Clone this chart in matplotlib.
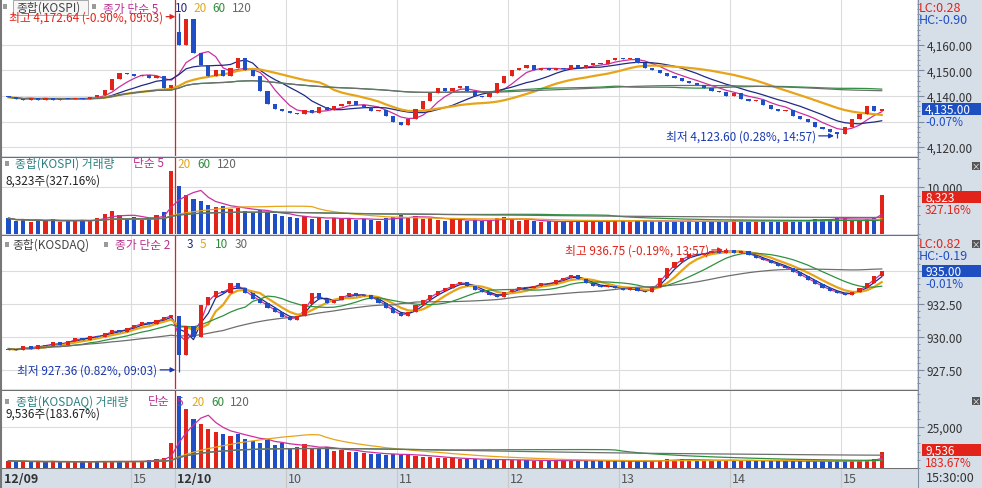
import numpy as np
import pandas as pd
import matplotlib
matplotlib.use('Agg')
import matplotlib.pyplot as plt
from matplotlib.patches import Rectangle
from matplotlib.lines import Line2D
from matplotlib.ticker import MultipleLocator, FixedLocator, FuncFormatter
import matplotlib.transforms as mtransforms

plt.rcParams['font.family'] = ['Noto Sans CJK KR', 'DejaVu Sans']

# 4분봉: 12/09 13:48~15:20 (23봉), 12/10 09:00~15:20 (96봉)
day1_len = 23
tick_idx = [0, 17, 23, 38, 53, 68, 83, 98, 113]
tick_lbl = ['12/09', '15', '12/10', '10', '11', '12', '13', '14', '15']
tick_bold = [True, False, True, False, False, False, False, False, False]

kospi_close = [
    4139.5, 4139.0, 4138.4, 4139.2, 4138.6, 4139.3, 4138.5, 4139.0, 4138.7, 4139.4,
    4138.8, 4139.6, 4140.3, 4142.5, 4146.5, 4149.2, 4148.6, 4147.8, 4148.4, 4147.2,
    4147.9, 4143.0, 4144.5,
    4160.0, 4170.0, 4157.0, 4152.0, 4148.0, 4150.0, 4148.0, 4151.0, 4155.0, 4150.0,
    4148.0, 4142.0, 4137.0, 4135.0, 4134.0, 4133.5, 4133.0, 4134.5, 4133.5, 4135.5,
    4134.5, 4136.0, 4137.0, 4138.0, 4136.5, 4135.5, 4134.0, 4134.5, 4132.0, 4130.0,
    4128.5, 4131.0, 4135.0, 4138.0, 4141.0, 4143.0, 4142.0, 4143.0, 4144.0, 4142.0,
    4140.0, 4139.5, 4141.0, 4145.0, 4148.0, 4150.0, 4151.0, 4152.0, 4150.0, 4151.0,
    4150.0, 4151.0, 4150.5, 4152.0, 4151.0, 4152.0, 4153.0, 4152.5, 4154.0, 4155.0,
    4154.5, 4155.0, 4153.0, 4151.0, 4150.0, 4149.0, 4148.0, 4147.0, 4146.0, 4145.0,
    4144.5, 4143.0, 4142.0, 4141.5, 4140.0, 4141.0, 4139.0, 4138.0, 4138.5, 4136.5,
    4135.0, 4134.0, 4134.5, 4132.0, 4131.0, 4130.0, 4128.0, 4127.0, 4126.0, 4125.0,
    4128.0, 4131.0, 4133.0, 4136.0, 4134.0, 4135.0,
]
kospi_open_first = 4139.8
kospi_open_1210 = 4165.0
kospi_hi = (23, 4172.64)
kospi_lo = (112, 4123.60)

kosdaq_close = [
    929.1, 929.0, 929.3, 929.1, 929.4, 929.3, 929.6, 929.4, 929.7, 929.9,
    929.8, 930.1, 930.0, 930.3, 930.5, 930.4, 930.7, 930.9, 931.1, 931.0,
    931.3, 931.5, 931.7,
    928.6, 930.8, 930.0, 932.4, 933.0, 933.5, 933.3, 934.1, 933.7, 933.3,
    932.9, 932.6, 932.2, 931.9, 931.5, 931.3, 931.6, 932.5, 933.3, 932.9,
    932.6, 932.8, 933.1, 933.3, 933.1, 933.2, 932.9, 932.6, 932.2, 931.8,
    931.6, 931.9, 932.4, 932.8, 933.2, 933.5, 933.7, 934.0, 934.2, 933.9,
    933.6, 933.4, 933.2, 933.0, 933.4, 933.6, 933.8, 933.7, 933.9, 934.1,
    934.0, 934.3, 934.5, 934.7, 934.4, 934.1, 933.9, 933.8, 933.9, 933.7,
    933.6, 933.7, 933.5, 933.4, 933.8, 934.5, 935.2, 935.7, 936.0, 936.3,
    936.2, 936.4, 936.5, 936.4, 936.6, 936.4, 936.5, 936.2, 936.0, 935.8,
    935.6, 935.4, 935.2, 934.9, 934.6, 934.3, 934.0, 933.7, 933.5, 933.3,
    933.2, 933.4, 933.7, 934.1, 934.6, 935.0,
]
kosdaq_open_first = 929.0
kosdaq_open_1210 = 931.6
kosdaq_hi = (97, 936.75)
kosdaq_lo = (23, 927.36)

kospi_vol = [
    3300, 2700, 3000, 2500, 2900, 2600, 3100, 2400, 2800, 2700,
    3000, 2600, 3400, 4300, 4800, 3900, 3100, 3500, 3000, 3400,
    3900, 4700, 13500,
    10200, 8200, 7500, 6900, 6200, 5600, 6000, 5200, 5800, 4900,
    4400, 5100, 4600, 4100, 3800, 3600, 3300, 3700, 3200, 3500,
    3000, 3400, 3100, 3300, 2900, 3200, 3000, 2800, 3300, 3600,
    3900, 3500, 3700, 3200, 3400, 3000, 2800, 3100, 2900, 2700,
    3000, 2600, 2900, 3300, 3500, 3100, 2800, 2900, 2600, 2500,
    2700, 2400, 2600, 2800, 2500, 2700, 2600, 2400, 2800, 3000,
    2700, 2500, 2900, 2700, 2600, 2800, 2500, 2700, 2600, 2800,
    2400, 2600, 2500, 2700, 2600, 2900, 2700, 2500, 2600, 2800,
    2700, 2600, 2500, 2900, 2800, 3000, 3200, 2900, 3100, 3400,
    3300, 3000, 2800, 3100, 3300, 8323,
]

kosdaq_vol = [
    4500, 3800, 4200, 3500, 4000, 3700, 4300, 3400, 3900, 3600,
    4100, 3500, 4400, 4000, 3800, 4200, 3600, 4500, 4100, 5000,
    5600, 6200, 15300,
    44000, 36000, 30000, 27000, 24000, 22000, 21000, 19500, 21000, 18000,
    16500, 15500, 17000, 14000, 15000, 12500, 13000, 14500, 12000, 11500,
    13000, 10500, 11000, 10000, 9500, 9000, 8500, 8800, 8000, 8500,
    7800, 8200, 7500, 7000, 6600, 6200, 6000, 5800, 5600, 5400,
    5200, 5000, 5300, 4900, 5100, 4800, 4600, 4900, 4500, 4400,
    4700, 4300, 4600, 4800, 4500, 4300, 4200, 4400, 4100, 4300,
    4000, 4200, 4100, 4000, 4400, 5000, 5400, 5000, 5200, 4800,
    4600, 4900, 4500, 4700, 5000, 4600, 4400, 4600, 4300, 4500,
    4200, 4400, 4100, 4300, 4000, 4200, 4100, 4300, 4000, 4400,
    4200, 4500, 4700, 5000, 5300, 9536,
]

kospi_ma = [5, 10, 20, 60, 120]
kosdaq_ma = [2, 3, 5, 10, 30]
vol_ma = [5, 20, 60, 120]
ma_colors = ['#CC2FA0', '#1F2A85', '#E8A417', '#2E9140', '#6E6E6E']
vol_ma_colors = ['#CC2FA0', '#E8A417', '#2E9140', '#6E6E6E']

RED = '#E2231A'
BLUE = '#1E4FC6'
PANEL_BG = '#D6DEE8'
GRID = '#DCDCDC'

W, H = 982, 489
fig = plt.figure(figsize=(W / 100, H / 100), dpi=100, facecolor=PANEL_BG)


def fx(x):
    return x / W


def fy(y):
    return 1 - y / H


def px_axes(x0, y0, x1, y1):
    return fig.add_axes([fx(x0), fy(y1), (x1 - x0) / W, (y1 - y0) / H])


def ftext(x, y, s, **kw):
    kw.setdefault('va', 'center')
    kw.setdefault('ha', 'left')
    kw.setdefault('fontsize', 8.5)
    return fig.text(fx(x), fy(y), s, **kw)


def frect(x0, y0, x1, y1, fc, ec='none', z=5, ax=None):
    r = Rectangle((fx(x0), fy(y1)), (x1 - x0) / W, (y1 - y0) / H,
                  transform=fig.transFigure, facecolor=fc,
                  edgecolor=ec, lw=0.7, zorder=z, clip_on=False)
    if ax is None:
        fig.patches.append(r)
    else:
        ax.add_patch(r)


def fline(x0, y0, x1, y1, color, lw=0.75):
    fig.lines.append(Line2D([fx(x0), fx(x1)], [fy(y0), fy(y1)],
                            transform=fig.transFigure, color=color, lw=lw, zorder=6))


def ypix(ax, v):
    return H - ax.transData.transform((0, v))[1]


def make_ohlc(close, open_first, open_d2, hi, lo):
    c = np.array(close, dtype=float)
    o = np.r_[open_first, c[:-1]]
    o[day1_len] = open_d2
    h = np.maximum(o, c)
    l = np.minimum(o, c)
    h[hi[0]] = hi[1]
    l[lo[0]] = lo[1]
    return o, h, l, c


# x: bar index, pixel ~ 8.5 + 7.4 * i
XL = ((2 - 8.5) / 7.4, (917 - 8.5) / 7.4)
n = len(kospi_close)
x = np.arange(n)

ax1 = px_axes(2, 1, 917, 157)
ax2 = px_axes(2, 158, 917, 235)
ax3 = px_axes(2, 236, 917, 390)
ax4 = px_axes(2, 391, 917, 469)
ax5 = px_axes(2, 469, 917, 489)

ax1.set_ylim(4116.5, 4177.6)
ax2.set_ylim(-100, 16450)
ax3.set_ylim(926.06, 937.73)
ax4.set_ylim(0, 47600)

for ax in (ax1, ax2, ax3, ax4, ax5):
    ax.set_xlim(*XL)
    ax.set_facecolor('white')
    for s in ax.spines.values():
        s.set_visible(False)
    ax.set_xticks([])
    for t in tick_idx[1:]:
        ax.axvline(t - 0.5, color='#C8C8C8' if ax is ax5 else GRID, lw=0.8, zorder=1)
ax5.set_facecolor(PANEL_BG)
ax5.set_yticks([])

for ax in (ax1, ax2, ax3, ax4):
    ax.axvline(day1_len - 0.5, color='#E02020', lw=0.9, zorder=2)
    ax.yaxis.tick_right()
    ax.tick_params(axis='y', which='major', direction='out', length=5, pad=2,
                   labelsize=8.5, colors='#7A8AA0', labelcolor='#333333')
    ax.tick_params(axis='y', which='minor', direction='out', length=2.5, colors='#7A8AA0')
    ax.grid(axis='y', which='major', color=GRID, lw=0.8, zorder=1)
    ax.set_axisbelow(True)


def fmt_hide(hide, dec):
    def f(v, p):
        if any(abs(v - h) < 1e-6 for h in hide):
            return ''
        return f'{v:,.{dec}f}'
    return FuncFormatter(f)


ax1.yaxis.set_major_locator(FixedLocator([4120, 4130, 4140, 4150, 4160]))
ax1.yaxis.set_minor_locator(MultipleLocator(2))
ax1.yaxis.set_major_formatter(fmt_hide([4130], 2))
ax3.yaxis.set_major_locator(FixedLocator([927.5, 930, 932.5, 935]))
ax3.yaxis.set_minor_locator(MultipleLocator(0.5))
ax3.yaxis.set_major_formatter(fmt_hide([935], 2))
ax2.yaxis.set_major_locator(FixedLocator([10000]))
ax2.yaxis.set_minor_locator(MultipleLocator(2000))
ax2.yaxis.set_major_formatter(fmt_hide([], 0))
ax4.yaxis.set_major_locator(FixedLocator([25000]))
ax4.yaxis.set_minor_locator(MultipleLocator(5000))
ax4.yaxis.set_major_formatter(fmt_hide([], 0))


def draw_candles(ax, o, h, l, c, min_body):
    up = c >= o
    col = np.where(up, RED, BLUE)
    ax.vlines(x, l, h, colors=col, lw=0.9, zorder=4)
    ax.bar(x, np.maximum(np.abs(c - o), min_body), bottom=np.minimum(o, c),
           width=0.55, color=col, lw=0, zorder=5)
    return up


def draw_ma(ax, values, periods, colors, thick=None):
    s = pd.Series(values, dtype=float)
    for p, col in zip(periods, colors):
        lw = 1.6 if p == thick else 0.9
        ax.plot(x, s.rolling(p, min_periods=1).mean(), color=col, lw=lw, zorder=3)


o1, h1, l1, c1 = make_ohlc(kospi_close, kospi_open_first, kospi_open_1210, kospi_hi, kospi_lo)
up1 = draw_candles(ax1, o1, h1, l1, c1, 0.4)
draw_ma(ax1, c1, kospi_ma, ma_colors, thick=20)

o3, h3, l3, c3 = make_ohlc(kosdaq_close, kosdaq_open_first, kosdaq_open_1210, kosdaq_hi, kosdaq_lo)
up3 = draw_candles(ax3, o3, h3, l3, c3, 0.08)
draw_ma(ax3, c3, kosdaq_ma, ma_colors, thick=5)

ax2.bar(x, kospi_vol, width=0.55, color=np.where(up1, RED, BLUE), lw=0, zorder=3)
draw_ma(ax2, kospi_vol, vol_ma, vol_ma_colors)
ax4.bar(x, kosdaq_vol, width=0.55, color=np.where(up3, RED, BLUE), lw=0, zorder=3)
draw_ma(ax4, kosdaq_vol, vol_ma, vol_ma_colors)


def mark(ax, idx, val, label, color, off=-14, dy=0):
    # dy: shift down in pixels so the arrow sits level with the label
    disp = ax.transData.transform((idx - 0.45, val))
    yv = ax.transData.inverted().transform((disp[0], disp[1] - dy))[1]
    ax.annotate(label, xy=(idx - 0.45, yv), xytext=(off, 0), textcoords='offset pixels',
                ha='right', va='center', fontsize=8.5, color=color, zorder=8,
                annotation_clip=False,
                arrowprops=dict(arrowstyle='-|>', color=color, lw=0.9,
                                mutation_scale=7, shrinkA=0, shrinkB=0))


mark(ax1, kospi_hi[0], kospi_hi[1], '최고 4,172.64 (-0.90%, 09:03)', RED, off=-12, dy=4)
mark(ax1, kospi_lo[0], kospi_lo[1], '최저 4,123.60 (0.28%, 14:57)', '#1A3AB0', off=-18, dy=-2)
mark(ax3, kosdaq_hi[0], kosdaq_hi[1], '최고 936.75 (-0.19%, 13:57)', RED, off=-14, dy=2)
mark(ax3, kosdaq_lo[0], kosdaq_lo[1], '최저 927.36 (0.82%, 09:03)', '#1A3AB0', off=-18, dy=-2)

# time axis
for t, lab, b in zip(tick_idx, tick_lbl, tick_bold):
    pos = XL[0] if t == 0 else t - 0.5
    ax5.text(pos + 0.25, 0.45, lab, transform=mtransforms.blended_transform_factory(ax5.transData, ax5.transAxes),
             ha='left', va='center', fontsize=9, color='#333333' if b else '#555555',
             fontweight='bold' if b else 'normal')
ftext(926, 479, '15:30:00', fontsize=9, color='#333333')

# legends
C_MAG, C_NAV, C_GLD, C_GRN, C_GRY, C_TEAL = '#B8308F', '#202878', '#E2A51C', '#2E8B3A', '#666666', '#2E8080'
frect(3, 5, 7, 10, '#9A9A9A')
frect(13, 1, 88, 16, '#F6F6F6', ec='#A8A8A8', z=7, ax=ax1)
ax1.text(fx(16), fy(8.5), '종합(KOSPI)', transform=fig.transFigure, color='#444444',
         fontsize=8.5, ha='left', va='center', zorder=7.5)
frect(92, 5, 96, 10, '#9A9A9A')
ftext(103, 9, '종가 단순 5', color=C_MAG)
ftext(175, 9, '10', color=C_NAV)
ftext(193, 9, '20', color=C_GLD)
ftext(212, 9, '60', color=C_GRN)
ftext(232, 9, '120', color=C_GRY)

frect(5, 162, 9, 167, '#9A9A9A')
ftext(15, 164, '종합(KOSPI) 거래량', color=C_TEAL)
ftext(133, 164, '단순 5', color=C_MAG)
ftext(177, 164, '20', color=C_GLD)
ftext(197, 164, '60', color=C_GRN)
ftext(217, 164, '120', color=C_GRY)
ftext(6, 181, '8,323주(327.16%)', color='#222222')

frect(5, 243, 9, 248, '#9A9A9A')
ftext(12, 245, '종합(KOSDAQ)', color='#444444')
frect(104, 243, 108, 248, '#9A9A9A')
ftext(115, 245, '종가 단순 2', color=C_MAG)
ftext(187, 245, '3', color=C_NAV)
ftext(200, 245, '5', color=C_GLD)
ftext(215, 245, '10', color=C_GRN)
ftext(235, 245, '30', color=C_GRY)

frect(5, 400, 9, 405, '#9A9A9A')
ftext(16, 402, '종합(KOSDAQ) 거래량', color=C_TEAL)
ftext(148, 402, '단순', color=C_MAG)
ftext(177, 402, '5', color=C_MAG)
ftext(191, 402, '20', color=C_GLD)
ftext(211, 402, '60', color=C_GRN)
ftext(230, 402, '120', color=C_GRY)
ftext(6, 414, '9,536주(183.67%)', color='#222222')

# right side labels
ftext(919, 8, 'LC:0.28', color=RED, fontsize=9)
ftext(919, 21, 'HC:-0.90', color=BLUE, fontsize=9)
ftext(919, 244, 'LC:0.82', color=RED, fontsize=9)
ftext(919, 257, 'HC:-0.19', color=BLUE, fontsize=9)


def last_box(ax, val, label, sub, fc, sub_color, shift=0):
    yc = ypix(ax, val) + shift
    frect(922, yc - 6, 981, yc + 6, fc)
    t = ftext(925, yc, label, color='white', fontsize=8.5)
    t.set_zorder(7)
    ftext(925, yc + 12.5, sub, color=sub_color, fontsize=8.5)


last_box(ax1, kospi_close[-1], '4,135.00', '-0.07%', '#1E4FC0', BLUE)
last_box(ax2, kospi_vol[-1], '8,323', '327.16%', RED, RED, shift=2)
last_box(ax3, kosdaq_close[-1], '935.00', '-0.01%', '#1E4FC0', BLUE)
last_box(ax4, kosdaq_vol[-1], '9,536', '183.67%', RED, RED, shift=-2)

for yb in (163, 241, 398):
    frect(972, yb, 980, yb + 8, '#555555')
    t = ftext(976, yb + 4, '×', color='white', fontsize=6, ha='center')
    t.set_zorder(7)

# borders
for yb in (157.5, 235.5, 390.5, 469):
    fline(0, yb, 917, yb, '#707070')
fline(917.5, 0, 917.5, 489, '#8090A4')
fline(1, 0, 1, 489, '#777777', lw=1.5)

fig.savefig('out.png', dpi=100, facecolor=fig.get_facecolor())
